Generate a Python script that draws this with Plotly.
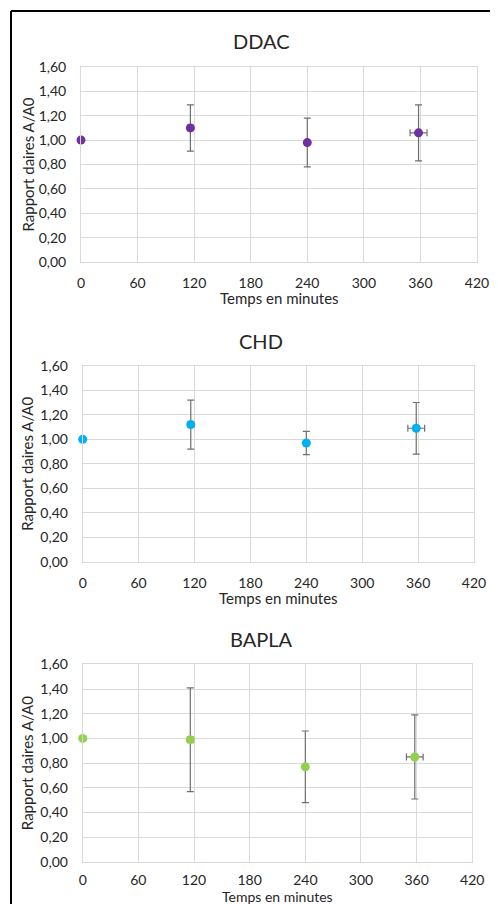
import plotly.graph_objects as go

# The page adds an 8px body margin, so the figure is placed 8px in from the top-left.
OFF = 8
W, H = 498 - OFF, 904 - OFF

# ---- data ----
times = [0, 116, 240, 358]
time_err = [0, 3, 0, 9]

ddac = [1.00, 1.10, 0.98, 1.06]
ddac_err = [0, 0.19, 0.20, 0.23]

chd = [1.00, 1.12, 0.97, 1.09]
chd_err = [0, 0.20, 0.095, 0.21]

bapla = [1.00, 0.99, 0.77, 0.85]
bapla_err = [0, 0.42, 0.29, 0.34]

titles = ["DDAC", "CHD", "BAPLA"]
colors = ["#7030A0", "#00B0F0", "#92D050"]
x_ticks = [0, 60, 120, 180, 240, 300, 360, 420]
y_ticks = [0, 0.2, 0.4, 0.6, 0.8, 1.0, 1.2, 1.4, 1.6]
y_ticktext = ["0,00", "0,20", "0,40", "0,60", "0,80", "1,00", "1,20", "1,40", "1,60"]
x_title = "Temps en minutes"
y_title = "Rapport daires A/A0"

series = [(ddac, ddac_err), (chd, chd_err), (bapla, bapla_err)]

# ---- layout in page pixels ----
# (left, right, top, bottom) of plot areas
areas = [(81, 477, 67, 262), (82.7, 474, 365.7, 562), (82.7, 472.3, 664.3, 862)]
title_y = [41, 341, 639]
xtitle_y = [298, 598, 896]
xtick_standoff = [8, 8, 5]
xtitle_size = [15, 15, 14]

def px(x):
    return (x - OFF) / W

def py(y):
    return 1 - (y - OFF) / H

FONT = "Lato"
TXT = "#262626"

fig = go.Figure()
annotations = []
for i, ((vals, errs), color, (l, r, t, b)) in enumerate(zip(series, colors, areas)):
    ax = "" if i == 0 else str(i + 1)
    fig.add_trace(go.Scatter(
        x=times, y=vals, mode="markers",
        marker=dict(size=9, color=color),
        error_y=dict(type="data", array=errs, visible=True, color="#6f6f6f", thickness=1.2, width=3.5),
        error_x=dict(type="data", array=time_err, visible=True, color="#6f6f6f", thickness=1.2, width=3.5),
        cliponaxis=False, showlegend=False,
        xaxis="x" + ax, yaxis="y" + ax,
    ))
    common = dict(showgrid=True, gridcolor="#d9d9d9", gridwidth=1, zeroline=False,
                  showline=True, linecolor="#d9d9d9", linewidth=1, mirror=True,
                  tickfont=dict(family=FONT, size=14, color=TXT), ticks="", automargin=False)
    fig.update_layout(**{
        "xaxis" + ax: dict(domain=[px(l), px(r)], range=[0, 420], tickvals=x_ticks,
                           anchor="y" + ax, ticklabelstandoff=xtick_standoff[i], **common),
        "yaxis" + ax: dict(domain=[py(b), py(t)], range=[0, 1.6], tickvals=y_ticks,
                           ticktext=y_ticktext, anchor="x" + ax, ticklabelstandoff=11, **common),
    })
    annotations.append(dict(text=titles[i], x=px(261), y=py(title_y[i]), xref="paper", yref="paper",
                            showarrow=False, xanchor="center", yanchor="middle",
                            font=dict(family=FONT, size=20, color=TXT)))
    annotations.append(dict(text=x_title, x=px((l + r) / 2), y=py(xtitle_y[i]), xref="paper", yref="paper",
                            showarrow=False, xanchor="center", yanchor="middle",
                            font=dict(family=FONT, size=xtitle_size[i], color=TXT)))
    annotations.append(dict(text=y_title, x=px(27), y=py((t + b) / 2), xref="paper", yref="paper",
                            showarrow=False, xanchor="center", yanchor="middle", textangle=-90,
                            font=dict(family=FONT, size=15, color=TXT)))

shapes = [
    dict(type="line", xref="paper", yref="paper", x0=px(11), x1=px(11), y0=py(11), y1=0,
         line=dict(color="black", width=2)),
    dict(type="line", xref="paper", yref="paper", x0=px(11), x1=1, y0=py(11), y1=py(11),
         line=dict(color="black", width=2)),
]

fig.update_layout(width=W, height=H, margin=dict(l=0, r=0, t=0, b=0, pad=0, autoexpand=False),
                  paper_bgcolor="white", plot_bgcolor="white",
                  annotations=annotations, shapes=shapes)

fig.write_html("out.html", config={"displayModeBar": False})
